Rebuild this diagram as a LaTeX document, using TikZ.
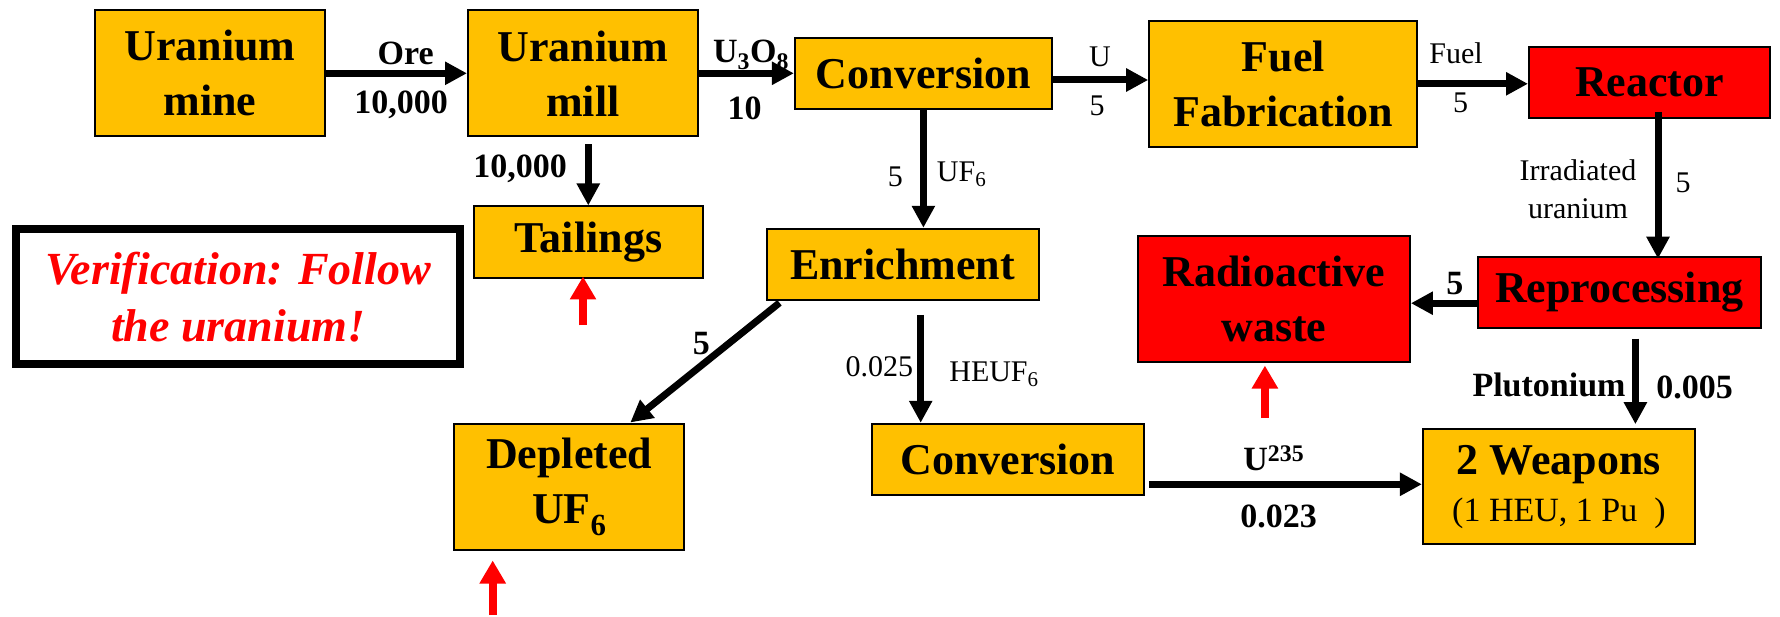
\documentclass[tikz,border=0pt]{standalone}
\usepackage{fontspec}
\setmainfont{Liberation Serif}
\usetikzlibrary{arrows.meta,calc}
\definecolor{gold}{RGB}{255,192,0}
\definecolor{redbox}{RGB}{255,0,0}
\begin{document}
\begin{tikzpicture}[x=1pt,y=-1pt,
  box/.style={draw=black, line width=2pt, fill=gold, inner sep=0pt, align=center,
    font=\fontsize{44}{55}\selectfont\bfseries},
  redb/.style={box, fill=redbox},
  arr/.style={line width=7pt, -{Triangle[length=22pt,width=22pt]}},
  redarr/.style={draw=red, line width=8pt, -{Triangle[length=23pt,width=25pt]}},
  lb/.style={font=\fontsize{34}{40}\selectfont\bfseries, inner sep=0pt},
  ln/.style={font=\fontsize{30}{38}\selectfont, inner sep=0pt, align=center},
]
\useasboundingbox (0,0) rectangle (1780,617);

% boxes
\node[box, minimum width=230pt, minimum height=126pt] (mine) at (210,73.3) {Uranium\\mine};
\node[box, minimum width=230pt, minimum height=126pt] (mill) at (583,73.3) {Uranium\\mill};
\node[box, minimum width=257pt, minimum height=71pt] (conv1) at (923.4,73.3) {Conversion};
\node[box, minimum width=268pt, minimum height=126pt] (fuelfab) at (1283.2,83.8) {Fuel\\Fabrication};
\node[redb, minimum width=241pt, minimum height=71pt] (reactor) at (1649.5,82.3) {Reactor};
\node[box, minimum width=229pt, minimum height=72pt] (tail) at (588.3,242.5) {Tailings};
\node[box, minimum width=272pt, minimum height=71pt] (enrich) at (902.5,264.3) {Enrichment};
\node[redb, minimum width=272pt, minimum height=126pt] (waste) at (1273.9,299.2) {Radioactive\\waste};
\node[redb, minimum width=283pt, minimum height=71pt] (reproc) at (1619.3,292.2) {Reprocessing};
\node[draw=black, line width=8pt, fill=white, inner sep=0pt, align=center, text=red,
  font=\fontsize{46}{57}\selectfont\bfseries\itshape,
  minimum width=443.7pt, minimum height=135.3pt] (verif) at (238.2,296.7)
  {Verification: Follow\\the uranium!};
\node[box, minimum width=230pt, minimum height=126pt] (depl) at (569.3,486.5) {Depleted\\UF\textsubscript{6}};
\node[box, minimum width=272pt, minimum height=71pt] (conv2) at (1007.8,459.3) {Conversion};
\node[box, minimum width=272pt, minimum height=115pt] (weap) at (1558.9,486.7)
  {2 Weapons\\[-8pt]{\fontsize{34}{40}\selectfont\mdseries (1 HEU, 1 Pu\hspace{0.5em})}};

% connectors
\draw[arr] (mine) -- (mill);
\draw[arr] (mill) -- (conv1);
\draw[arr] ([yshift=-6.7pt]conv1.east) -- ([yshift=-6.7pt]conv1.east -| fuelfab.west);
\draw[arr] (fuelfab.east) -- (fuelfab.east -| reactor.west);
\draw[arr] ([yshift=-7pt]mill.south -| tail.north) -- (tail.north);
\draw[arr] (conv1.south) -- (conv1.south |- enrich.north);
\coordinate (g1) at ($(reactor.south)+(8.5,-7)$);
\coordinate (g2) at ($(reactor.south |- reproc.north)+(8.5,3)$);
\draw[arr] (g1) -- (g2);
\draw[arr] ([yshift=-11pt]reproc.west) -- ([yshift=-11pt]reproc.west -| waste.east);
\coordinate (i1) at ($(enrich.south west)+(14,2)$);
\coordinate (i2) at ($(depl.north)+(61,0)$);
\draw[arr] (i1) -- (i2);
\coordinate (j1) at ($(enrich.south)+(18.2,14)$);
\draw[arr] (j1) -- (j1 |- conv2.north);
\coordinate (k1) at ($(conv2.east)+(4,25)$);
\draw[arr] (k1) -- (k1 -| weap.west);
\coordinate (l1) at ($(reproc.south)+(16.1,10)$);
\coordinate (l2) at ($(l1 |- weap.north)+(0,-4)$);
\draw[arr] (l1) -- (l2);

% red arrows
\coordinate (r1) at ($(tail.south)+(-5.3,46)$);
\coordinate (r1t) at ($(r1 |- tail.south)+(0,-3)$);
\draw[redarr] (r1) -- (r1t);
\coordinate (r2) at ($(waste.south)+(-9,55)$);
\coordinate (r2t) at ($(r2 |- waste.south)+(0,2.4)$);
\draw[redarr] (r2) -- (r2t);
\coordinate (r3) at ($(depl.south)+(-76.6,64.5)$);
\coordinate (r3t) at ($(r3 |- depl.south)+(0,10)$);
\draw[redarr] (r3) -- (r3t);

% labels
\node[lb] (lore) at (405.7,53.3) {Ore};
\node[lb] (lore2) at (401,105) {10,000};
\node[lb] (lu3o8) at (751,55) {U\textsubscript{3}O\textsubscript{8}};
\node[lb] (l10) at (744.7,108) {10};
\node[ln] (lu) at (1100,56.7) {U};
\node[ln] (lu5) at (1097,106) {5};
\node[ln] (lfuel) at (1456,53.3) {Fuel};
\node[ln] (lfuel5) at (1460.5,103) {5};
\node[lb] (ltail) at (520,169) {10,000};
\node[ln] (luf5) at (895.4,176.7) {5};
\node[ln] (luf6) at (961.6,174) {UF\textsubscript{6}};
\node[ln] (lirr) at (1578,189) {Irradiated\\uranium};
\node[ln] (lirr5) at (1683,183) {5};
\node[lb] (lw5) at (1454.8,283.3) {5};
\node[lb] (ld5) at (701.4,343.3) {5};
\node[ln] (lheu1) at (879.4,366.7) {0.025};
\node[ln] (lheu2) at (994,374) {HEUF\textsubscript{6}};
\node[lb] (lpu) at (1549,385) {Plutonium};
\node[lb] (lpu2) at (1694.7,387.3) {0.005};
\node[lb] (lu235) at (1273.8,458) {U\textsuperscript{235}};
\node[lb] (lu235b) at (1278.7,516.7) {0.023};
\end{tikzpicture}
\end{document}
